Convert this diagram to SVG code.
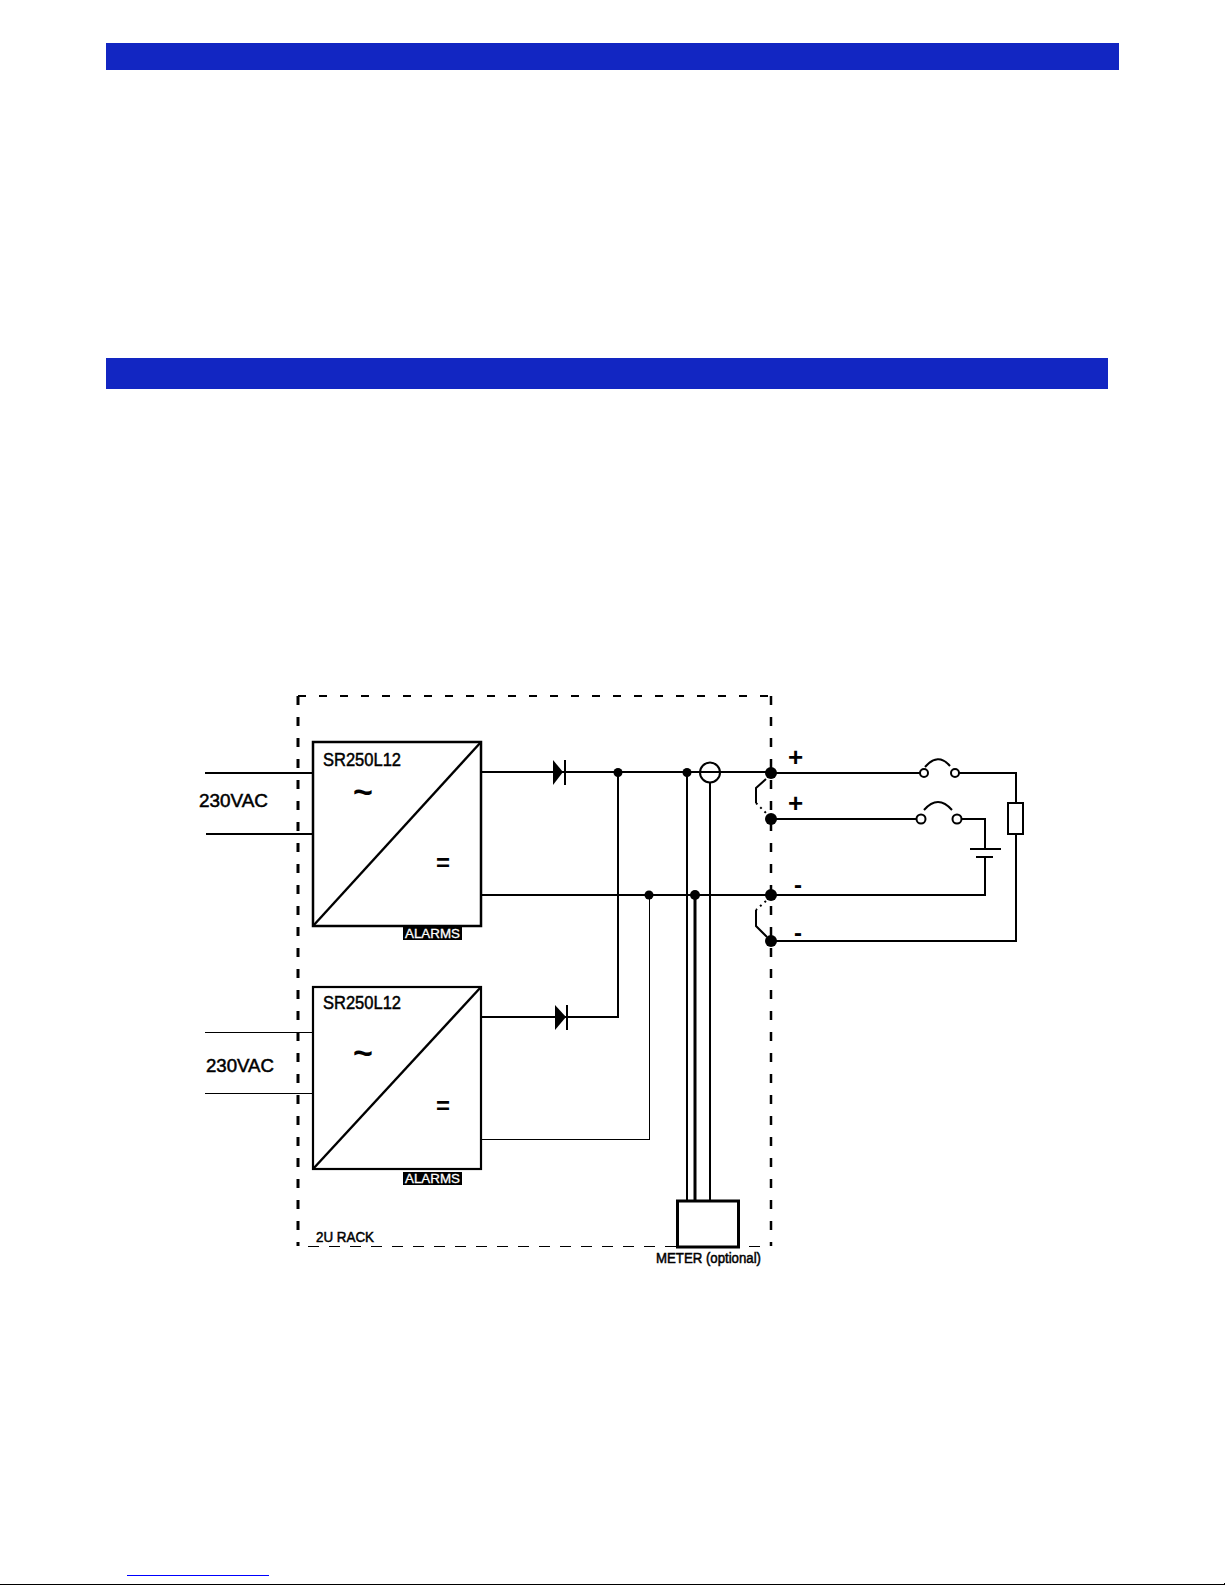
<svg xmlns="http://www.w3.org/2000/svg" width="1225" height="1585" viewBox="0 0 1225 1585">
<style>
.w{fill:none;stroke:#000;stroke-width:2}
.t1{stroke-width:1;shape-rendering:crispEdges}
.b{fill:#000;stroke:none}
.o{fill:#fff;stroke:#000;stroke-width:2}
.bar{fill:#1226c2}
text{font-family:"Liberation Sans",Arial,sans-serif;fill:#000;stroke:#000;stroke-width:.5}
.a{fill:#fff;stroke:#fff;stroke-width:.3;font-size:13px}
.big{font-weight:bold;stroke:none}
</style>
<rect width="1225" height="1585" fill="#fff"/>
<rect id="bar1" class="bar" x="106" y="43" width="1013" height="27"/>
<rect id="bar2" class="bar" x="106" y="358" width="1002" height="31"/>
<g id="rack">
<path class="w" d="M298 696V1246" style="stroke-width:3" stroke-dasharray="9 12"/>
<path class="w" d="M298 696H771" stroke-dasharray="8 13"/>
<path class="w" d="M771 696V1246" style="stroke-width:2.5" stroke-dasharray="9 12"/>
<path class="w t1" d="M308 1246.500H765" stroke-dasharray="11 10"/>
<text x="316" y="1242" font-size="14" textLength="58" lengthAdjust="spacingAndGlyphs">2U RACK</text>
</g>
<g id="connectors">
<path class="w" d="M205 773H313M206 834H313"/>
<path class="w t1" d="M205 1032.500H313M205 1093.500H313"/>
<path class="w" d="M481 772H771M481 895H771M481 1017H618V773"/>
<path class="w t1" d="M481 1139.500H649.500V895"/>
<path class="w" d="M771 773H920M959 773H1016V941H771M771 819H917M962 819H985V849M985 857V895H771"/>
<path class="w" d="M687 773V1201M710 783V1201"/>
<path class="w" style="stroke-width:3" d="M695 895V1201"/>
<path class="w" d="M766 779L756 788V803"/>
<path class="w" stroke-dasharray="2 4" d="M756 803L768 815"/>
<path class="w" stroke-dasharray="2 4" d="M766 901L756 910"/>
<path class="w" d="M756 910V926L767 937"/>
</g>
<g id="converter1">
<rect class="w" x="313" y="742" width="168" height="184" style="stroke-width:2.5"/>
<path class="w" style="stroke-width:2.4" d="M313 926L481 742"/>
<text x="323" y="766" font-size="18" textLength="78" lengthAdjust="spacingAndGlyphs">SR250L12</text>
<text class="big" x="353" y="803" font-size="34">~</text>
<text class="big" x="436" y="871" font-size="24">=</text>
<rect class="b" x="403" y="927" width="59" height="13"/>
<text class="a" x="405" y="938" textLength="55" lengthAdjust="spacingAndGlyphs">ALARMS</text>
</g>
<g id="converter2">
<rect class="w" x="313" y="987" width="168" height="182" style="stroke-width:2.2"/>
<path class="w" style="stroke-width:2.4" d="M313 1169L481 987"/>
<text x="323" y="1009" font-size="18" textLength="78" lengthAdjust="spacingAndGlyphs">SR250L12</text>
<text class="big" x="353" y="1064" font-size="34">~</text>
<text class="big" x="436" y="1114" font-size="24">=</text>
<rect class="b" x="403" y="1172" width="59" height="13"/>
<text class="a" x="405" y="1183" textLength="55" lengthAdjust="spacingAndGlyphs">ALARMS</text>
</g>
<g id="ac-labels">
<text x="199" y="807" font-size="18" textLength="69" lengthAdjust="spacingAndGlyphs">230VAC</text>
<text x="206" y="1072" font-size="18" textLength="68" lengthAdjust="spacingAndGlyphs">230VAC</text>
</g>
<g id="diode1"><path class="b" d="M553 760L563 772L553 785Z"/><path class="w" d="M565 760V785"/></g>
<g id="diode2"><path class="b" d="M555 1005L566 1017L555 1030Z"/><path class="w" d="M567 1005V1030"/></g>
<g id="junctions">
<circle class="b" cx="618" cy="772.500" r="4.500"/>
<circle class="b" cx="687" cy="772.500" r="4.500"/>
<circle class="b" cx="649" cy="895" r="4.500"/>
<circle class="b" cx="695" cy="895" r="5"/>
</g>
<g id="current-sensor"><circle class="w" cx="710" cy="772.500" r="10"/></g>
<g id="terminals">
<circle class="b" cx="771" cy="773" r="6"/>
<circle class="b" cx="771" cy="819" r="6"/>
<circle class="b" cx="771" cy="895" r="6"/>
<circle class="b" cx="771" cy="941" r="6"/>
<text class="big" x="788" y="766" font-size="26">+</text>
<text class="big" x="788" y="812" font-size="26">+</text>
<text class="big" x="794" y="893" font-size="24">-</text>
<text class="big" x="794" y="941" font-size="24">-</text>
</g>
<g id="breaker1">
<circle class="o" cx="924" cy="773" r="4"/><circle class="o" cx="955" cy="773" r="4"/>
<path class="w" d="M925 767Q938 752 950 766"/>
</g>
<g id="breaker2">
<circle class="o" cx="921" cy="819" r="4.500"/><circle class="o" cx="957" cy="819" r="4.500"/>
<path class="w" d="M924 810Q938 794 952 810"/>
</g>
<g id="battery"><path class="w" d="M970 849H1001M976 857H993"/></g>
<g id="load"><rect class="o" x="1008" y="803" width="15" height="31"/></g>
<g id="meter">
<rect x="677.500" y="1201" width="61" height="46" fill="#fff" stroke="#000" stroke-width="3"/>
<text x="656" y="1263" font-size="14" textLength="105" lengthAdjust="spacingAndGlyphs">METER (optional)</text>
</g>
<g id="footer">
<rect x="127" y="1575" width="142" height="1" fill="#0000ff"/>
<rect x="0" y="1584" width="1225" height="1" fill="#000"/>
<rect x="1224" y="1583" width="1" height="2" fill="#000"/>
</g>
</svg>
